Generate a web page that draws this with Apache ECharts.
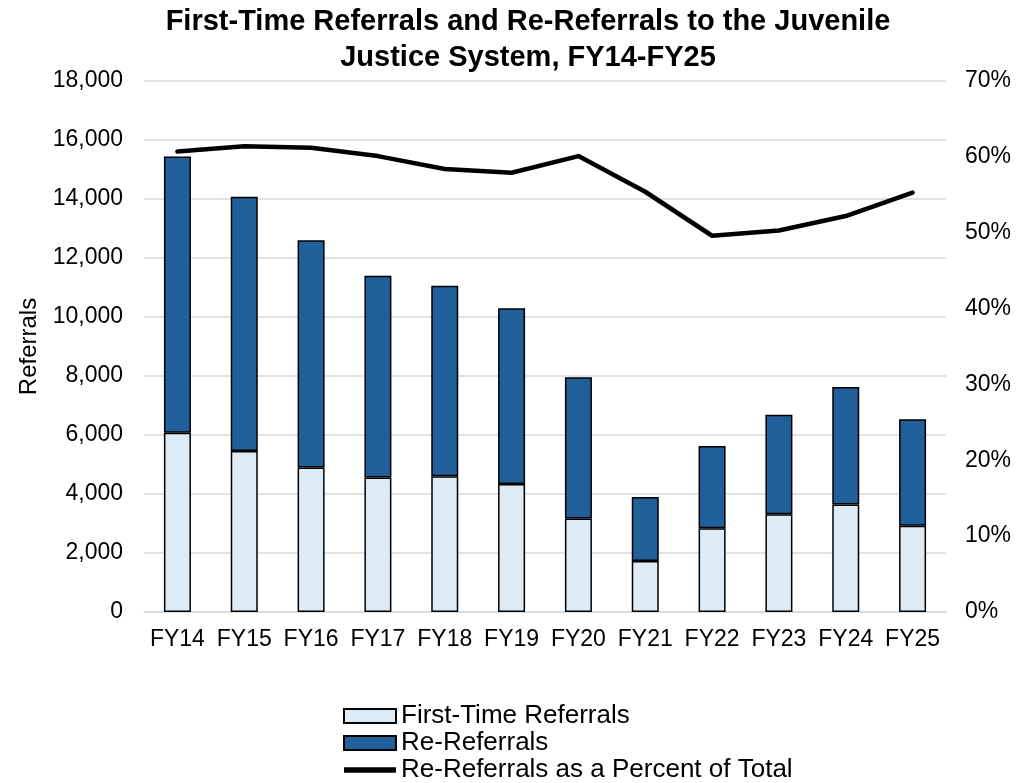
<!DOCTYPE html>
<html><head><meta charset="utf-8">
<script src="https://cdn.jsdelivr.net/npm/echarts@6/dist/echarts.min.js"></script>
<style>html,body{margin:0;padding:0;background:#fff}#c{width:1020px;height:783px}</style>
</head><body><div id="c"></div>
<script>
const categories = ['FY14','FY15','FY16','FY17','FY18','FY19','FY20','FY21','FY22','FY23','FY24','FY25'];
const firstTime = [6080, 5460, 4900, 4560, 4600, 4340, 3170, 1730, 2840, 3310, 3640, 2920];
const reReferrals = [9360, 8620, 7700, 6840, 6460, 5960, 4790, 2170, 2790, 3380, 3990, 3610];
const rePercent = [0.607, 0.614, 0.612, 0.601, 0.584, 0.579, 0.601, 0.554, 0.496, 0.503, 0.522, 0.553];
const leftTicks = [0, 2000, 4000, 6000, 8000, 10000, 12000, 14000, 16000, 18000];

const font = 'Liberation Sans, Arial, sans-serif';
const chart = echarts.init(document.getElementById('c'), null, {renderer: 'canvas'});
chart.setOption({
  backgroundColor: '#fff',
  animation: false,
  title: {
    text: 'First-Time Referrals and Re-Referrals to the Juvenile\nJustice System, FY14-FY25',
    left: 528, top: 4, textAlign: 'center', padding: 0,
    textStyle: {fontFamily: font, fontWeight: 'bold', fontSize: 29, lineHeight: 36, color: '#000'}
  },
  grid: {left: 144, right: 74, top: 81, bottom: 171, containLabel: false},
  legend: {
    orient: 'vertical', left: 343, top: 703, height: 100, width: 600, padding: 0,
    itemWidth: 52, itemHeight: 14, itemGap: 1,
    textStyle: {fontFamily: font, fontSize: 26, color: '#000', lineHeight: 24},
    data: [
      {name: 'First-Time Referrals', icon: 'rect'},
      {name: 'Re-Referrals', icon: 'rect'},
      {name: 'Re-Referrals as a Percent of Total', icon: 'path://M0,0H52V5.5H0Z',
       itemStyle: {color: '#000', borderWidth: 0}}
    ]
  },
  xAxis: {
    type: 'category', data: categories,
    axisLine: {lineStyle: {color: '#D9D9D9', width: 1.5}},
    axisTick: {show: false},
    axisLabel: {fontFamily: font, fontSize: 23, color: '#000', margin: 16, interval: 0}
  },
  yAxis: [{
    type: 'value', min: leftTicks[0], max: leftTicks[leftTicks.length - 1], interval: 2000,
    name: 'Referrals', nameLocation: 'middle', nameGap: 103, nameRotate: 90,
    nameTextStyle: {fontFamily: font, fontSize: 24, color: '#000'},
    axisLine: {show: false}, axisTick: {show: false},
    axisLabel: {fontFamily: font, fontSize: 23, color: '#000', margin: 21,
      formatter: v => v.toLocaleString('en-US')},
    splitLine: {lineStyle: {color: '#D9D9D9', width: 1.5}}
  }, {
    type: 'value', min: 0, max: 0.7, interval: 0.1,
    axisLine: {show: false}, axisTick: {show: false},
    axisLabel: {fontFamily: font, fontSize: 23, color: '#000', margin: 19,
      formatter: v => Math.round(v * 100) + '%'},
    splitLine: {show: false}
  }],
  series: [{
    name: 'First-Time Referrals', type: 'bar', stack: 'tot', data: firstTime, barWidth: 27,
    itemStyle: {color: '#DDEBF7', borderColor: '#000', borderWidth: 1.5}
  }, {
    name: 'Re-Referrals', type: 'bar', stack: 'tot', data: reReferrals, barWidth: 27,
    itemStyle: {color: '#215F9A', borderColor: '#000', borderWidth: 1.5}
  }, {
    name: 'Re-Referrals as a Percent of Total', type: 'line', yAxisIndex: 1, data: rePercent,
    symbol: 'none', smooth: false, z: 5,
    lineStyle: {color: '#000', width: 4.5, join: 'round', cap: 'round'}, itemStyle: {color: '#000'}
  }]
});
</script></body></html>
